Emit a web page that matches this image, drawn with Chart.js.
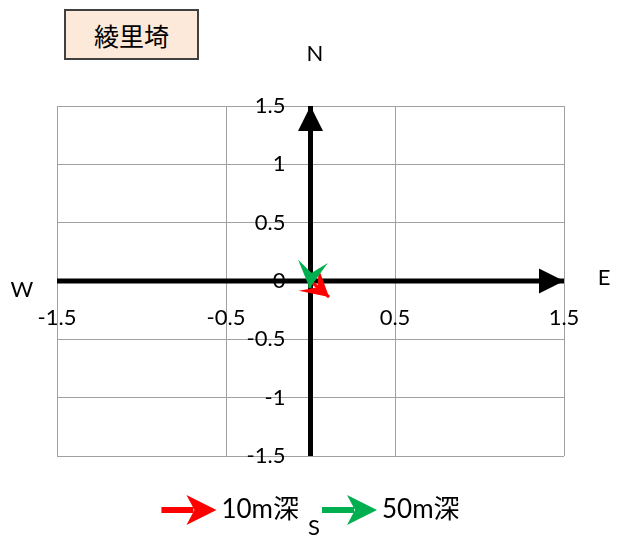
<!DOCTYPE html>
<html>
<head>
<meta charset="utf-8">
<script src="https://cdn.jsdelivr.net/npm/chart.js@4/dist/chart.umd.min.js"></script>
<style>
    body { margin: 0; background: #fff; }
    #wrap { position: relative; width: 621px; height: 537px; }
    .lbl {
        position: absolute;
        font: 22px Lato, "Noto Sans CJK JP", sans-serif;
        line-height: 1;
        color: #000;
        transform: translate(-50%, -50%);
        white-space: nowrap;
    }
    #titleBox {
        position: absolute;
        left: 64px; top: 9px; width: 135px; height: 51px;
        box-sizing: border-box;
        border: 2px solid #404040;
        background: #fde9d9;
        font: 25px "Noto Sans CJK JP", sans-serif;
        display: flex; align-items: center; justify-content: center;
    }
</style>
</head>
<body>
<div id="wrap">
    <canvas id="chart" width="621" height="537"></canvas>
    <div id="titleBox">綾里埼</div>
    <div class="lbl" style="left:315px; top:53px;">N</div>
    <div class="lbl" style="left:314px; top:527px;">S</div>
    <div class="lbl" style="left:22px; top:289px;">W</div>
    <div class="lbl" style="left:604px; top:277px;">E</div>
</div>
<script>
// Data
const depthLabels = ['10m深', '50m深'];
const vectorEast = [0.11, -0.005];
const vectorNorth = [-0.138, -0.06];
const axisRange = [-1.5, 1.5];
const xTicks = [-1.5, -0.5, 0.5, 1.5];
const yTicks = [-1.5, -1, -0.5, 0, 0.5, 1, 1.5];

const seriesColors = ['#ff0000', '#00b050'];
const fontFamily = 'Lato, "Noto Sans CJK JP", sans-serif';

// Draw a (stealth) arrow head at the end of the segment (x0,y0)->(x1,y1)
function drawHead(ctx, x0, y0, x1, y1, h, color) {
    const d = Math.hypot(x1 - x0, y1 - y0);
    if (!d) return;
    const ux = (x1 - x0) / d, uy = (y1 - y0) / d;
    const px = -uy, py = ux;
    const bx = x1 - ux * h.len, by = y1 - uy * h.len;
    ctx.beginPath();
    ctx.moveTo(x1, y1);
    ctx.lineTo(bx + px * h.wid / 2, by + py * h.wid / 2);
    ctx.lineTo(x1 - ux * (h.len - h.notch), y1 - uy * (h.len - h.notch));
    ctx.lineTo(bx - px * h.wid / 2, by - py * h.wid / 2);
    ctx.closePath();
    ctx.fillStyle = color;
    ctx.fill();
}

// y labels sit on the centre axis; move them off the line a bit
const yLabelGap = {
    id: 'yLabelGap',
    beforeDraw(chart) {
        chart.scales.y.getLabelItems().forEach(it => {
            if (!it._moved) {
                it.options.translation[0] -= 25;
                it._moved = true;
            }
        });
    }
};

const arrowHeads = {
    id: 'arrowHeads',
    afterDatasetsDraw(chart) {
        const ctx = chart.ctx;
        ctx.save();
        chart.data.datasets.forEach((ds, i) => {
            const pts = chart.getDatasetMeta(i).data;
            const a = pts[0], b = pts[pts.length - 1];
            drawHead(ctx, a.x, a.y, b.x, b.y, ds.head, ds.borderColor);
        });
        ctx.restore();
    }
};

const arrowLegend = {
    id: 'arrowLegend',
    afterDraw(chart) {
        const ctx = chart.ctx;
        const items = chart.data.datasets.filter(ds => ds.label);
        ctx.save();
        ctx.font = '26px ' + fontFamily;
        const arrowW = 55, textGap = 5, itemGap = 23;
        const widths = items.map(ds => arrowW + textGap + ctx.measureText(ds.label).width);
        const total = widths.reduce((s, w) => s + w, 0) + itemGap * (items.length - 1);
        let x = (chart.chartArea.left + chart.chartArea.right) / 2 - total / 2;
        const y = 510;
        items.forEach((ds, k) => {
            ctx.strokeStyle = ds.borderColor;
            ctx.lineWidth = 6;
            ctx.beginPath();
            ctx.moveTo(x, y);
            ctx.lineTo(x + 32, y);
            ctx.stroke();
            drawHead(ctx, x, y, x + arrowW, y, { len: 30, wid: 30, notch: 8 }, ds.borderColor);
            ctx.fillStyle = '#000';
            ctx.textAlign = 'left';
            ctx.textBaseline = 'middle';
            ctx.fillText(ds.label, x + arrowW + textGap, y);
            x += widths[k] + itemGap;
        });
        ctx.restore();
    }
};

const datasets = [
    {
        data: [{ x: axisRange[0], y: 0 }, { x: axisRange[1], y: 0 }],
        borderColor: '#000', borderWidth: 5, order: 4,
        head: { len: 25, wid: 25, notch: 0 }
    },
    {
        data: [{ x: 0, y: axisRange[0] }, { x: 0, y: axisRange[1] }],
        borderColor: '#000', borderWidth: 5, order: 3,
        head: { len: 25, wid: 25, notch: 0 }
    }
];
depthLabels.forEach((label, i) => {
    datasets.push({
        label: label,
        data: [{ x: 0, y: 0 }, { x: vectorEast[i], y: vectorNorth[i] }],
        borderColor: seriesColors[i], borderWidth: 3, order: 2 - i,
        head: { len: 27, wid: 30, notch: 12 }
    });
});

Chart.defaults.font.family = fontFamily;
Chart.defaults.color = '#000';

new Chart(document.getElementById('chart'), {
    type: 'scatter',
    data: { datasets: datasets },
    options: {
        responsive: false,
        animation: false,
        events: [],
        showLine: true,
        elements: { point: { radius: 0 }, line: { tension: 0 } },
        layout: { padding: { left: 57, right: 57, top: 106, bottom: 81 } },
        plugins: { legend: { display: false }, tooltip: { enabled: false } },
        scales: {
            x: {
                type: 'linear',
                position: { y: 0 },
                min: axisRange[0], max: axisRange[1],
                afterBuildTicks: s => { s.ticks = xTicks.map(v => ({ value: v })); },
                grid: { color: '#a0a0a0', drawTicks: false },
                border: { display: false },
                ticks: {
                    autoSkip: false, maxRotation: 0, padding: 24,
                    font: { size: 22 },
                    callback: v => String(v)
                }
            },
            y: {
                type: 'linear',
                position: { x: 0 },
                min: axisRange[0], max: axisRange[1],
                afterBuildTicks: s => { s.ticks = yTicks.map(v => ({ value: v })); },
                grid: { color: '#a0a0a0', drawTicks: false },
                border: { display: false },
                ticks: {
                    autoSkip: false,
                    font: { size: 22 },
                    callback: v => String(v)
                }
            }
        }
    },
    plugins: [yLabelGap, arrowHeads, arrowLegend]
});
</script>
</body>
</html>
